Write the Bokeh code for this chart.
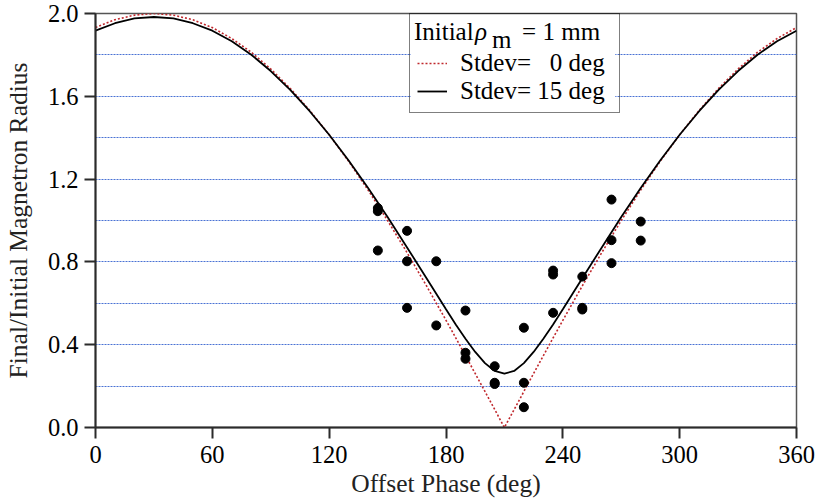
from bokeh.plotting import figure
from bokeh.models import (FixedTicker, Range1d, Legend, LegendItem, Label,
                          PrintfTickFormatter, BoxAnnotation)
from bokeh.embed import file_html
from bokeh.resources import INLINE

# ---- data ----
phase = [0, 10, 20, 30, 40, 50, 60, 70, 80, 90, 100, 110, 120, 130, 140, 150, 160,
         170, 175, 180, 185, 190, 195, 200, 205, 210, 215, 220, 225, 230, 235, 240, 245,
         250, 260, 270, 280, 290, 300, 310, 320, 330, 340, 350, 360]
stdev0 = [1.932, 1.970, 1.992, 2.000, 1.992, 1.970, 1.932, 1.879, 1.813, 1.732, 1.638,
          1.532, 1.414, 1.286, 1.147, 1.000, 0.845, 0.684, 0.601, 0.518, 0.433, 0.347,
          0.261, 0.174, 0.087, 0.000, 0.087, 0.174, 0.261, 0.347, 0.433, 0.518, 0.601,
          0.684, 0.845, 1.000, 1.147, 1.286, 1.414, 1.532, 1.638, 1.732, 1.813, 1.879, 1.932]
stdev15 = [1.917, 1.953, 1.976, 1.983, 1.976, 1.953, 1.917, 1.866, 1.801, 1.722, 1.631,
           1.528, 1.414, 1.290, 1.157, 1.017, 0.870, 0.721, 0.646, 0.571, 0.498, 0.429,
           0.365, 0.311, 0.273, 0.260, 0.273, 0.311, 0.365, 0.429, 0.498, 0.571, 0.646,
           0.721, 0.870, 1.017, 1.157, 1.290, 1.414, 1.528, 1.631, 1.722, 1.801, 1.866, 1.917]
meas_phase = [145, 145, 145, 160, 160, 160, 175, 175, 190, 190, 190, 205, 205, 205,
              220, 220, 220, 235, 235, 235, 250, 250, 250, 265, 265, 265, 280, 280]
meas_ratio = [1.060, 1.045, 0.855, 0.950, 0.803, 0.578, 0.803, 0.493, 0.565, 0.361, 0.332,
              0.296, 0.216, 0.210, 0.482, 0.216, 0.098, 0.758, 0.739, 0.554, 0.729, 0.578,
              0.570, 1.101, 0.905, 0.794, 0.995, 0.903]
x_ticks = [0, 60, 120, 180, 240, 300, 360]
y_ticks = [0.0, 0.4, 0.8, 1.2, 1.6, 2.0]
grid_levels = [0.2, 0.4, 0.6, 0.8, 1.0, 1.2, 1.4, 1.6, 1.8]
labels0 = "Stdev= \u20070 deg"
labels15 = "Stdev= 15 deg"

FONT = "Liberation Serif"

p = figure(width=815, height=500, x_range=Range1d(0, 360), y_range=Range1d(0, 2),
           output_backend="svg", toolbar_location=None,
           min_border_left=95, min_border_right=19, min_border_top=13, min_border_bottom=73,
           background_fill_color="white", border_fill_color="white")

p.outline_line_color = "#555555"
p.outline_line_width = 1.5

for ax in (p.xaxis[0], p.yaxis[0]):
    ax.axis_line_width = 2
    ax.axis_line_color = "#2b2b2b"
    ax.major_tick_line_width = 2
    ax.major_tick_line_color = "#2b2b2b"
    ax.major_tick_out = 11
    ax.major_tick_in = 0
    ax.minor_tick_line_color = None
    ax.major_label_text_font = FONT
    ax.major_label_text_font_size = "24.5px"
    ax.major_label_text_color = "black"
    ax.axis_label_text_font = FONT
    ax.axis_label_text_font_size = "25.5px"
    ax.axis_label_text_font_style = "normal"
    ax.axis_label_text_color = "#222222"

p.xaxis.ticker = FixedTicker(ticks=x_ticks)
p.yaxis.ticker = FixedTicker(ticks=y_ticks)
p.xaxis.formatter = PrintfTickFormatter(format="%d")
p.yaxis.formatter = PrintfTickFormatter(format="%.1f")
p.xaxis.axis_label = "Offset Phase (deg)"
p.yaxis.axis_label = "Final/Initial Magnetron Radius"
p.xaxis.major_label_standoff = 7
p.yaxis.major_label_standoff = 6
p.xaxis.axis_label_standoff = 3
p.yaxis.axis_label_standoff = 12

p.xgrid.visible = False
p.ygrid.ticker = FixedTicker(ticks=grid_levels)
p.ygrid.grid_line_color = "#4a72d4"
p.ygrid.grid_line_dash = "2 1"
p.ygrid.grid_line_width = 1


def dx(px):
    return (px - 95) * 360.0 / 700.0


def dy(py):
    return (427 - py) / 207.0


# white fill behind the legend (covers the grid), legend itself is transparent
p.add_layout(BoxAnnotation(left=dx(410), right=dx(614), top=dy(15), bottom=dy(112),
                           fill_color="white", fill_alpha=1.0, line_color=None,
                           level="underlay"))

r0 = p.line(phase, stdev0, line_color="#c0282d", line_width=1.6, line_dash="2 2")
r15 = p.line(phase, stdev15, line_color="black", line_width=1.8)
p.scatter(meas_phase, meas_ratio, size=9, color="black")

legend = Legend(items=[LegendItem(label=labels0, renderers=[r0]),
                       LegendItem(label=labels15, renderers=[r15])],
                location=(314, 314), title=" ",
                title_text_font=FONT, title_text_font_size="25px", title_standoff=0,
                label_text_font=FONT, label_text_font_size="25px", label_text_color="black",
                glyph_width=30, glyph_height=28, label_height=28, label_standoff=13,
                label_width=152, spacing=0, padding=7, margin=0,
                border_line_color="black", border_line_width=1.5,
                background_fill_alpha=0.0)
p.add_layout(legend)

# legend title made of parts (italic rho with subscript m); pixel targets
# corrected for the label box offset observed in rendering
title_parts = [
    ("Initial", 413, 31.0, "25px", "normal"),
    ("\u03c1", 474, 31.0, "25px", "italic"),
    ("m", 491, 39.0, "25px", "normal"),
    ("= 1 mm", 521, 31.0, "25px", "normal"),
]
for txt, px, py, fs, st in title_parts:
    p.add_layout(Label(x=dx(px), y=dy(py), text=txt, text_font=FONT, text_font_size=fs,
                       text_font_style=st, text_baseline="alphabetic", text_align="left",
                       text_color="black"))

open("out.html", "w").write(file_html(p, INLINE))
